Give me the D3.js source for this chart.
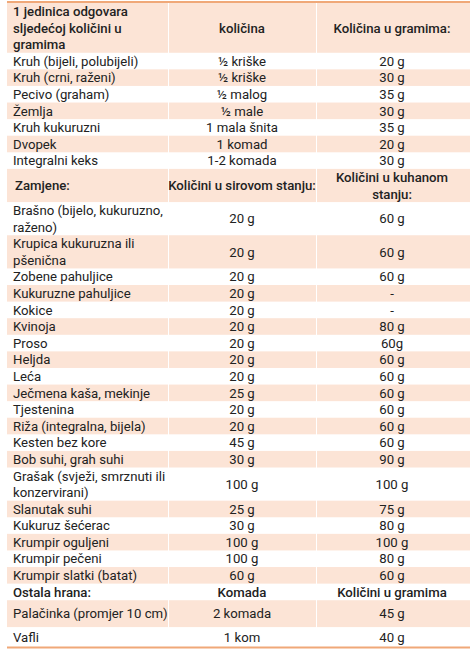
<!DOCTYPE html>
<html><head><meta charset="utf-8">
<script src="https://cdn.jsdelivr.net/npm/d3@7"></script>
<style>body{margin:0;background:#fff}text{font-family:Roboto,"Liberation Sans",sans-serif;fill:#222}</style>
</head><body><svg id="c" width="474" height="653"></svg>
<script>
const names = ["1 jedinica odgovara\nsljedećoj količini u\ngramima","Kruh (bijeli, polubijeli)","Kruh (crni, raženi)","Pecivo (graham)","Žemlja","Kruh kukuruzni","Dvopek","Integralni keks","Zamjene:","Brašno (bijelo, kukuruzno,\nraženo)","Krupica kukuruzna ili\npšenična","Zobene pahuljice","Kukuruzne pahuljice","Kokice","Kvinoja","Proso","Heljda","Leća","Ječmena kaša, mekinje","Tjestenina","Riža (integralna, bijela)","Kesten bez kore","Bob suhi, grah suhi","Grašak (svježi, smrznuti ili\nkonzervirani)","Slanutak  suhi","Kukuruz šećerac","Krumpir oguljeni","Krumpir pečeni","Krumpir slatki (batat)","Ostala hrana:","Palačinka (promjer 10 cm)","Vafli"];
const col2 = ["količina","½ kriške","½ kriške","½ malog","½ male","1 mala šnita","1 komad","1-2 komada","Količini u sirovom stanju:","20 g","20 g","20 g","20 g","20 g","20 g","20 g","20 g","20 g","25 g","20 g","20 g","45 g","30 g","100 g","25 g","30 g","100 g","100 g","60 g","Komada","2 komada","1 kom"];
const col3 = ["Količina u gramima:","20 g","30 g","35 g","30 g","35 g","20 g","30 g","Količini u kuhanom\nstanju:","60 g","60 g","60 g","-","-","80 g","60g","60 g","60 g","60 g","60 g","60 g","60 g","90 g","100 g","75 g","80 g","100 g","80 g","60 g","Količini u gramima","45 g","40 g"];
const headerRows = [0,8,29];

const svg = d3.select("#c");
const lines = s => s.split("\n").length;
const hUnits = names.map((n,i)=> i===0?3 : i===8?2 : i===30?1.62 : i===31?1.2 : Math.max(lines(n),lines(col3[i])));
const cum=[0]; hUnits.forEach(u=>cum.push(cum[cum.length-1]+u));
const y = d3.scaleLinear().domain([0,cum[cum.length-1]]).range([3,647]);
const x = d3.scaleOrdinal().domain([0,1,2,3]).range([7,168,316,470]);
const peach="#fce4d6";
names.forEach((n,i)=>{
  const y0=y(cum[i]), y1=y(cum[i+1]);
  const shaded = i%2===0 && i!==30 ? (i!==28&&i!==29) : false;
  const fill = (i===0||i===8) ? true : (i===29?false : (i===30?true:(i===31?false:(i%2===0))));
  const g=svg.append("g");
  if(fill){
    [0,1,2].forEach(c=>g.append("rect").attr("x",x(c)+(c?1:0)).attr("y",y0).attr("width",x(c+1)-x(c)-(c?1:0)).attr("height",y1-y0).attr("fill",peach));
  }
  const hdr=headerRows.includes(i);
  const fw=hdr?500:400;
  const lh=16.6;
  const cells=[[n,13,"start"],[col2[i],242,"middle"],[col3[i],392,"middle"]];
  cells.forEach(([t,tx,anc],c)=>{
    const ls=t.split("\n");
    const mid=(y0+y1)/2;
    const t0=mid-(ls.length-1)*lh/2;
    ls.forEach((l,k)=>g.append("text").attr("x",tx+(i===8&&c===0?2:0)).attr("y",t0+k*lh).attr("dy","0.36em")
      .attr("text-anchor",anc).attr("font-size",13.2).attr("font-weight",fw).text(l));
  });
});
svg.append("line").attr("x1",7).attr("x2",470).attr("y1",2).attr("y2",2).attr("stroke","#f0a878").attr("stroke-width",2);
svg.append("line").attr("x1",7).attr("x2",470).attr("y1",647.5).attr("y2",647.5).attr("stroke","#f0a878").attr("stroke-width",2);
</script></body></html>
